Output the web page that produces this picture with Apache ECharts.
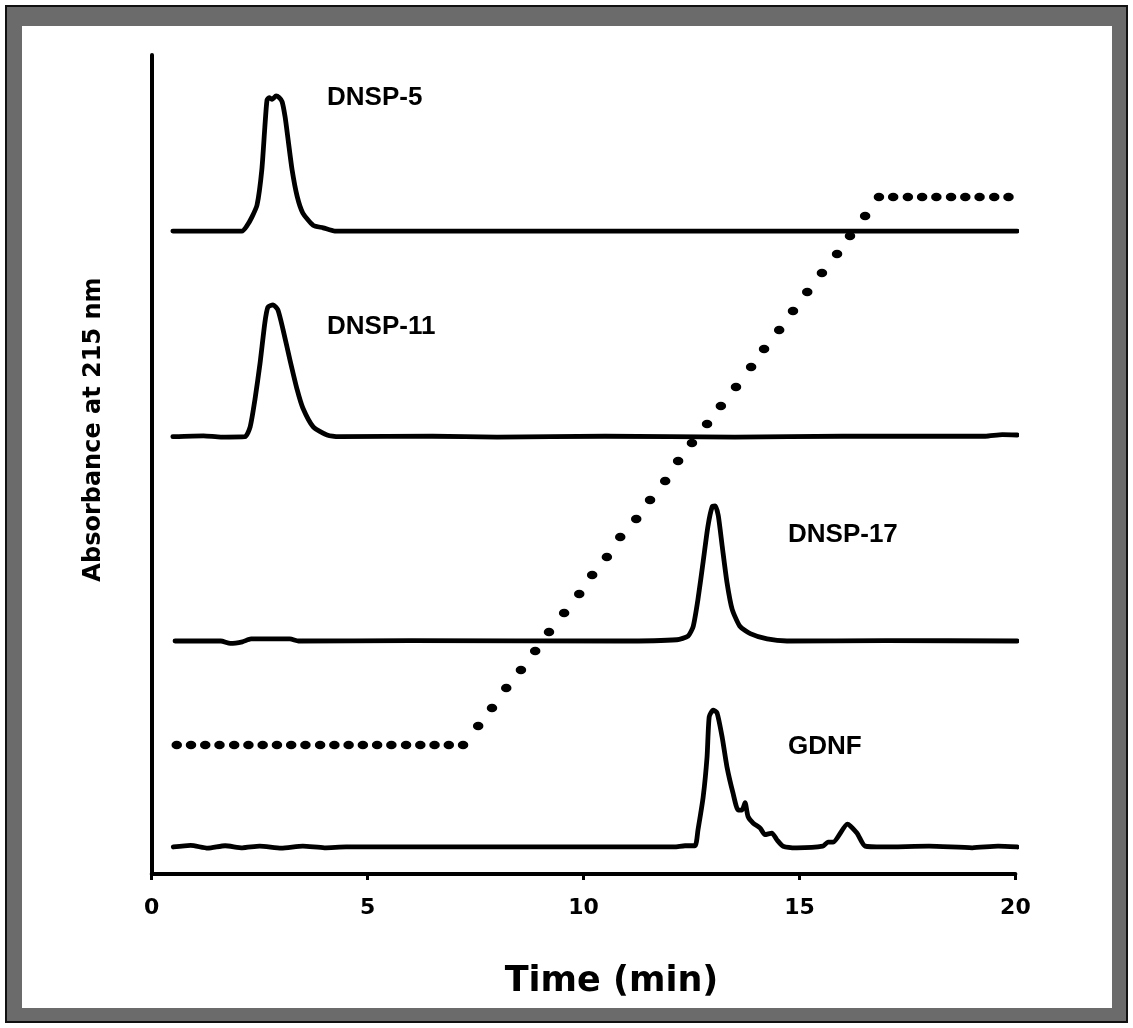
<!DOCTYPE html>
<html><head><meta charset="utf-8">
<script src="https://cdn.jsdelivr.net/npm/echarts@6.0.0/dist/echarts.min.js"></script>
<style>html,body{margin:0;padding:0;background:#fff}#c{width:1133px;height:1028px}</style>
</head><body><div id="c"></div><script>
// ---- data (time in min, absorbance in arbitrary units) ----
var xTicks = [0, 5, 10, 15, 20];
var traceNames = ['DNSP-5', 'DNSP-11', 'DNSP-17', 'GDNF'];
var baselineOffsets = [78.5, 53.4, 28.45, 3.3];

var t5 = [0.49, 2.09, 2.2, 2.32, 2.44, 2.55, 2.62, 2.67, 2.72, 2.79, 2.88, 2.95, 3.02, 3.09, 3.16, 3.25, 3.37, 3.50, 3.74, 3.97, 4.24, 20.04];
var s5 = [0, 0, 0.6, 1.7, 3.2, 7.5, 12.7, 16.0, 16.3, 16.1, 16.5, 16.3, 15.8, 13.9, 11.1, 7.5, 4.2, 2.2, 0.7, 0.4, 0, 0];

var t11 = [0.49, 1.2, 1.6, 2.16, 2.28, 2.39, 2.51, 2.62, 2.69, 2.81, 2.92, 3.04, 3.2, 3.37, 3.5, 3.74, 4.06, 4.36, 6.5, 8.0, 10.5, 13.5, 16.0, 19.3, 19.7, 20.04];
var s11 = [0, 0.1, -0.05, 0, 1.2, 4.5, 9.0, 13.9, 15.8, 16.1, 15.5, 13.1, 9.4, 5.7, 3.5, 1.2, 0.2, 0, 0.05, -0.05, 0.05, -0.05, 0.05, 0.05, 0.25, 0.2];

var t17 = [0.54, 1.6, 1.82, 2.1, 2.3, 3.2, 3.4, 6.0, 10.85, 12.16, 12.42, 12.54, 12.65, 12.77, 12.88, 12.98, 13.05, 13.12, 13.21, 13.32, 13.44, 13.62, 13.86, 14.25, 14.71, 17.0, 20.04];
var s17 = [0, 0, -0.3, -0.1, 0.25, 0.25, 0, 0.05, 0, 0.15, 0.6, 1.8, 5.1, 9.7, 14.0, 16.4, 16.5, 15.3, 11.6, 7.2, 3.9, 1.8, 0.9, 0.25, 0, 0.05, 0];

var tG = [0.5, 0.9, 1.3, 1.7, 2.1, 2.5, 3.0, 3.5, 4.0, 4.5, 5.0, 12.1, 12.35, 12.58, 12.65, 12.77, 12.86, 12.91, 13.0, 13.09, 13.21, 13.32, 13.46, 13.58, 13.67, 13.74, 13.81, 13.93, 14.09, 14.2, 14.36, 14.48, 14.62, 14.94, 15.54, 15.66, 15.78, 16.11, 16.33, 16.52, 16.94, 18.0, 19.0, 19.6, 20.04];
var sG = [0, 0.2, -0.15, 0.15, -0.1, 0.1, -0.15, 0.1, -0.1, 0, 0, 0, 0.15, 0.15, 2.1, 6.1, 11.0, 15.9, 16.7, 16.4, 13.4, 9.8, 6.6, 4.5, 4.5, 5.4, 3.7, 2.9, 2.3, 1.5, 1.7, 0.85, 0.1, -0.1, 0.1, 0.6, 0.6, 2.8, 1.7, 0.1, 0, 0.1, -0.1, 0.1, 0];

// gradient profile (dotted)
var gradTime = [0.58, 0.91, 1.24, 1.57, 1.91, 2.24, 2.57, 2.90, 3.23, 3.56, 3.90, 4.23, 4.56, 4.89, 5.22, 5.55, 5.89, 6.22, 6.55, 6.88, 7.21,
  7.56, 7.88, 8.21, 8.55, 8.88, 9.20, 9.55, 9.90, 10.20, 10.54, 10.85, 11.22, 11.54, 11.89, 12.19, 12.51, 12.86, 13.18, 13.53, 13.88, 14.18, 14.53, 14.85, 15.18, 15.52, 15.87, 16.17, 16.52,
  16.84, 17.17, 17.51, 17.84, 18.17, 18.51, 18.84, 19.17, 19.51, 19.84];
var gradLevel = [15.75, 15.75, 15.75, 15.75, 15.75, 15.75, 15.75, 15.75, 15.75, 15.75, 15.75, 15.75, 15.75, 15.75, 15.75, 15.75, 15.75, 15.75, 15.75, 15.75, 15.75,
  18.07, 20.27, 22.71, 24.91, 27.23, 29.55, 31.87, 34.19, 36.51, 38.71, 41.15, 43.35, 45.67, 47.99, 50.43, 52.63, 54.95, 57.14, 59.46, 61.9, 64.1, 66.42, 68.74, 71.06, 73.38, 75.7, 77.9, 80.34,
  82.66, 82.66, 82.66, 82.66, 82.66, 82.66, 82.66, 82.66, 82.66, 82.66];

// ---- build ----
function pairs(t, s, off) { return t.map(function (x, i) { return [x, s[i] + off]; }); }
var traces = [[t5, s5], [t11, s11], [t17, s17], [tG, sG]];
var series = traces.map(function (tr, i) {
  return {
    name: traceNames[i], type: 'line', data: pairs(tr[0], tr[1], baselineOffsets[i]),
    showSymbol: false, symbol: 'none', clip: false, smooth: 0.2,
    lineStyle: { color: '#000', width: 4.8, cap: 'round', join: 'round' }, z: 3
  };
});
series.push({
  name: 'gradient', type: 'scatter', data: pairs(gradTime, gradLevel, 0),
  symbol: 'circle', symbolSize: [10.5, 8.5], itemStyle: { color: '#000', opacity: 1 }, clip: false, z: 4
});

var labelFont = 'bold 26px "Liberation Sans", Arial, sans-serif';
var labelPos = [[327, 98], [327, 327], [788, 535], [788, 747]];
var graphics = [
  { type: 'rect', shape: { x: 6, y: 6, width: 1121, height: 1016 }, style: { fill: '#6b6b6b', stroke: '#111', lineWidth: 2 }, z: -10, silent: true },
  { type: 'rect', shape: { x: 22, y: 26, width: 1090, height: 982 }, style: { fill: '#fff' }, z: -9, silent: true }
];
traceNames.forEach(function (n, i) {
  graphics.push({ type: 'text', x: labelPos[i][0], y: labelPos[i][1], style: { text: n, font: labelFont, fill: '#000', verticalAlign: 'middle', align: 'left' }, z: 10 });
});

var chart = echarts.init(document.getElementById('c'), null, { renderer: 'canvas' });
chart.setOption({
  animation: false,
  backgroundColor: 'transparent',
  grid: { left: 151.7, right: 117.6, top: 55, bottom: 154, containLabel: false },
  xAxis: {
    type: 'value', min: xTicks[0], max: xTicks[xTicks.length - 1], interval: 5,
    name: 'Time (min)', nameLocation: 'middle', nameGap: 90,
    nameTextStyle: { fontFamily: 'DejaVu Sans', fontWeight: 'bold', fontSize: 35, color: '#000', padding: [0, 0, 0, 56] },
    axisLine: { lineStyle: { color: '#000', width: 4 } },
    axisTick: { show: true, inside: false, length: 6, lineStyle: { color: '#000', width: 3 } },
    axisLabel: { margin: 23, fontFamily: 'DejaVu Sans', fontWeight: 'bold', fontSize: 22, color: '#000' },
    splitLine: { show: false }
  },
  yAxis: {
    type: 'value', min: 0, max: 100,
    name: 'Absorbance at 215 nm', nameLocation: 'middle', nameGap: 46, nameRotate: 90,
    nameTextStyle: { fontFamily: 'DejaVu Sans', fontWeight: 'bold', fontSize: 24, color: '#000', padding: [0, 0, 0, 70] },
    axisLine: { show: true, lineStyle: { color: '#000', width: 4 } },
    axisTick: { show: false }, axisLabel: { show: false }, splitLine: { show: false }
  },
  graphic: graphics,
  series: series
});
</script></body></html>
